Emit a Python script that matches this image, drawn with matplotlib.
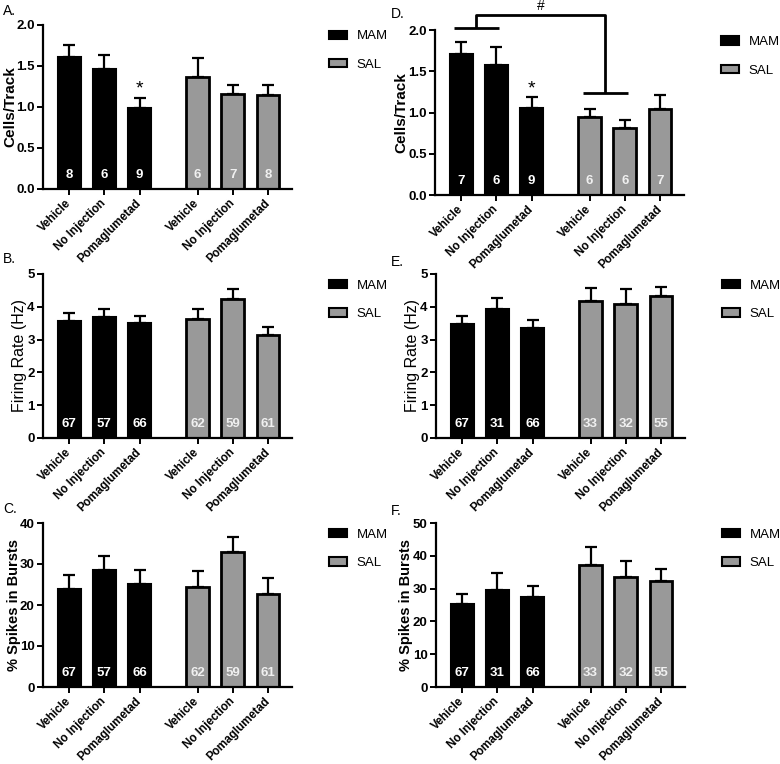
import matplotlib
matplotlib.use("Agg")
import matplotlib.pyplot as plt
from matplotlib.patches import Patch
from matplotlib.transforms import ScaledTranslation
import numpy as np

plt.rcParams['font.family'] = ['Liberation Sans', 'DejaVu Sans']

categories = ["Vehicle", "No Injection", "Pomaglumetad"]
groups = ["MAM", "SAL"]

# Panel A
A_mam = [1.61, 1.455, 0.98]
A_mam_err = [0.14, 0.175, 0.13]
A_sal = [1.366, 1.16, 1.14]
A_sal_err = [0.234, 0.10, 0.13]
A_n_mam = [8, 6, 9]
A_n_sal = [6, 7, 8]

# Panel B
B_mam = [3.56, 3.68, 3.50]
B_mam_err = [0.25, 0.24, 0.21]
B_sal = [3.62, 4.25, 3.15]
B_sal_err = [0.31, 0.28, 0.24]
B_n_mam = [67, 57, 66]
B_n_sal = [62, 59, 61]

# Panel C
C_mam = [23.9, 28.6, 25.2]
C_mam_err = [3.4, 3.3, 3.3]
C_sal = [24.5, 33.0, 22.8]
C_sal_err = [3.9, 3.7, 3.7]
C_n_mam = [67, 57, 66]
C_n_sal = [62, 59, 61]

# Panel D
D_mam = [1.71, 1.575, 1.057]
D_mam_err = [0.15, 0.225, 0.13]
D_sal = [0.943, 0.818, 1.045]
D_sal_err = [0.107, 0.097, 0.175]
D_n_mam = [7, 6, 9]
D_n_sal = [6, 6, 7]

# Panel E
E_mam = [3.49, 3.94, 3.36]
E_mam_err = [0.24, 0.33, 0.25]
E_sal = [4.17, 4.08, 4.33]
E_sal_err = [0.40, 0.45, 0.27]
E_n_mam = [67, 31, 66]
E_n_sal = [33, 32, 55]

# Panel F
F_mam = [25.4, 29.7, 27.5]
F_mam_err = [3.1, 5.1, 3.2]
F_sal = [37.2, 33.4, 32.2]
F_sal_err = [5.4, 4.9, 3.8]
F_n_mam = [67, 31, 66]
F_n_sal = [33, 32, 55]

MAM_COLOR = "#000000"
SAL_COLOR = "#999999"

W, H = 780, 764
fig = plt.figure(figsize=(W / 100, H / 100), dpi=100)

def rect(left, top, right, bottom):
    return [left / W, 1 - bottom / H, (right - left) / W, (bottom - top) / H]

x_mam = np.array([0, 1, 2])
x_sal = np.array([3.65, 4.65, 5.65])
bar_w = 0.65

def panel(r, mam, mam_err, sal, sal_err, n_mam, n_sal, ymax, ystep, ylabel, yfmt,
          label_x, label_size, label_weight='bold', star=False):
    ax = fig.add_axes(r)
    ax.bar(x_mam, mam, width=bar_w, color=MAM_COLOR, edgecolor='black', linewidth=1.5, zorder=2)
    ax.bar(x_sal, sal, width=bar_w, color=SAL_COLOR, edgecolor='black', linewidth=2.0, zorder=2)
    ax.errorbar(x_mam, mam, yerr=[np.zeros(3), mam_err], fmt='none', ecolor='black',
                elinewidth=1.6, capsize=4.5, capthick=1.6, zorder=1)
    ax.errorbar(x_sal, sal, yerr=[np.zeros(3), sal_err], fmt='none', ecolor='black',
                elinewidth=1.6, capsize=4.5, capthick=1.6, zorder=1)
    for xs, ns, col in ((x_mam, n_mam, 'white'), (x_sal, n_sal, '#f0f0f0')):
        for xi, ni in zip(xs, ns):
            ax.text(xi, 0.085, str(ni), transform=ax.get_xaxis_transform(), ha='center', va='center',
                    color=col, fontsize=9.5, fontweight='bold', zorder=3)
    if star:
        ax.annotate('*', xy=(x_mam[2], mam[2] + mam_err[2]), xytext=(0, 6), textcoords='offset points',
                    ha='center', va='center', fontsize=14)
    ax.set_xlim(-0.74, 6.33)
    ax.set_ylim(0, ymax)
    ax.set_yticks(np.arange(0, ymax + ystep / 2, ystep))
    ax.yaxis.set_major_formatter(matplotlib.ticker.FormatStrFormatter(yfmt))
    ax.set_xticks(list(x_mam) + list(x_sal))
    ax.set_xticklabels(categories + categories, rotation=45, ha='right', va='center',
                       rotation_mode='anchor', fontsize=8.4, fontweight='bold')
    shift = ScaledTranslation(6 / 100, 5 / 100, fig.dpi_scale_trans)
    for lab in ax.get_xticklabels():
        lab.set_transform(lab.get_transform() + shift)
    for lab in ax.get_yticklabels():
        lab.set_fontweight('bold')
        lab.set_fontsize(9.5)
    ax.spines['top'].set_visible(False)
    ax.spines['right'].set_visible(False)
    ax.spines['left'].set_linewidth(1.6)
    ax.spines['bottom'].set_linewidth(1.6)
    ax.tick_params(axis='both', length=4, width=1.4, pad=2)
    ax.tick_params(axis='x', pad=5)
    ax.text(label_x / (r[2] * W), 0.5, ylabel, transform=ax.transAxes, rotation=90,
            ha='center', va='center', fontsize=label_size, fontweight=label_weight)
    handles = [Patch(facecolor=MAM_COLOR, edgecolor='black', linewidth=1.5),
               Patch(facecolor=SAL_COLOR, edgecolor='black', linewidth=1.5)]
    ax.legend(handles, groups, loc='upper left', bbox_to_anchor=(1.15, 0.965), frameon=False,
              borderpad=0, borderaxespad=0, handlelength=1.3, handleheight=0.6,
              handletextpad=0.75, labelspacing=1.25, fontsize=9.5)
    return ax

axA = panel(rect(43, 24.7, 292, 188.7), A_mam, A_mam_err, A_sal, A_sal_err, A_n_mam, A_n_sal,
            2.0, 0.5, "Cells/Track", "%.1f", -33, 11, star=True)
axB = panel(rect(43, 274, 292, 438), B_mam, B_mam_err, B_sal, B_sal_err, B_n_mam, B_n_sal,
            5, 1, "Firing Rate (Hz)", "%d", -23, 11.5, label_weight='normal')
axC = panel(rect(43, 523, 292, 687), C_mam, C_mam_err, C_sal, C_sal_err, C_n_mam, C_n_sal,
            40, 10, "% Spikes in Bursts", "%d", -29, 10.5)
axD = panel(rect(435, 30.3, 684, 195), D_mam, D_mam_err, D_sal, D_sal_err, D_n_mam, D_n_sal,
            2.0, 0.5, "Cells/Track", "%.1f", -34, 11, star=True)
axE = panel(rect(436, 274, 685, 438), E_mam, E_mam_err, E_sal, E_sal_err, E_n_mam, E_n_sal,
            5, 1, "Firing Rate (Hz)", "%d", -24, 11.5, label_weight='normal')
axF = panel(rect(436, 523, 685, 687), F_mam, F_mam_err, F_sal, F_sal_err, F_n_mam, F_n_sal,
            50, 10, "% Spikes in Bursts", "%d", -30, 10.5)

# Significance bracket in panel D
br_low_mam = 2.024
br_low_sal = 1.235
br_top = 2.19
br_half = 0.64
mam_c = 0.43
sal_c = 4.09
kw = dict(color='black', lw=2, clip_on=False, solid_capstyle='butt')
axD.plot([mam_c - br_half, mam_c + br_half], [br_low_mam, br_low_mam], **kw)
axD.plot([sal_c - br_half, sal_c + br_half], [br_low_sal, br_low_sal], **kw)
axD.plot([mam_c, mam_c, sal_c, sal_c], [br_low_mam, br_top, br_top, br_low_sal], **kw)
axD.text((mam_c + sal_c) / 2, br_top + 0.02, '#', ha='center', va='bottom', fontsize=10, clip_on=False)

# Panel letters
for lbl, (px, py) in zip("ABCDEF", [(3, 11), (3, 259), (3, 509), (391, 14), (391, 262), (391, 511)]):
    fig.text(px / W, 1 - py / H, lbl + ".", fontsize=10, ha='left', va='center')

fig.savefig("out.png", dpi=100)
